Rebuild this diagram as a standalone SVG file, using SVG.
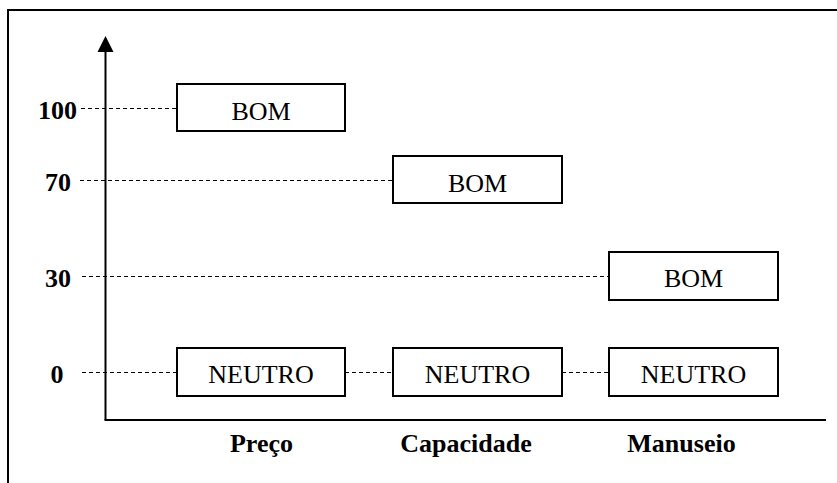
<svg xmlns="http://www.w3.org/2000/svg" width="837" height="483" viewBox="0 0 837 483">
<defs>
<style>
.box{fill:#fff;stroke:#000;stroke-width:2}
.lbl{font-family:"Liberation Serif","Times New Roman",serif;font-size:26px;fill:#000;text-anchor:middle}
.b{font-weight:bold}
.dash{stroke:#000;stroke-width:1;stroke-dasharray:4 3;fill:none;shape-rendering:crispEdges}
.ax{stroke:#000;stroke-width:2;fill:none}
</style>
</defs>
<rect width="837" height="483" fill="#fff"/>
<path class="ax" d="M8,483 L8,10 L837,10"/>
<g id="connectors">
<line class="dash" x1="81" y1="108.5" x2="177" y2="108.5"/>
<line class="dash" x1="80" y1="180.5" x2="393" y2="180.5"/>
<line class="dash" x1="82" y1="276.5" x2="609" y2="276.5"/>
<line class="dash" x1="82" y1="372.5" x2="177" y2="372.5"/>
<line class="dash" x1="345" y1="372.5" x2="393" y2="372.5"/>
<line class="dash" x1="562" y1="372.5" x2="609" y2="372.5"/>
</g>
<g id="axes">
<line class="ax" x1="105.5" y1="420" x2="105.5" y2="50"/>
<path d="M97.5,52 L105.5,36 L113.5,52 Z" fill="#000"/>
<line class="ax" x1="104.5" y1="420" x2="826" y2="420"/>
</g>
<g id="ylabels">
<text class="lbl b" x="57.5" y="118.5">100</text>
<text class="lbl b" x="58" y="190.5">70</text>
<text class="lbl b" x="58" y="287">30</text>
<text class="lbl b" x="57" y="383">0</text>
</g>
<g id="xlabels">
<text class="lbl b" x="261.5" y="452">Preço</text>
<text class="lbl b" x="466" y="452">Capacidade</text>
<text class="lbl b" x="681.5" y="452">Manuseio</text>
</g>
<g id="preco-bom"><rect class="box" x="177" y="84" width="168" height="47"/><text class="lbl" x="261" y="120">BOM</text></g>
<g id="capacidade-bom"><rect class="box" x="393" y="156" width="169" height="47"/><text class="lbl" x="477.5" y="191.5">BOM</text></g>
<g id="manuseio-bom"><rect class="box" x="609" y="252" width="169" height="48"/><text class="lbl" x="693.5" y="286.5">BOM</text></g>
<g id="preco-neutro"><rect class="box" x="177" y="348" width="168" height="48"/><text class="lbl" x="261" y="383">NEUTRO</text></g>
<g id="capacidade-neutro"><rect class="box" x="393" y="348" width="169" height="48"/><text class="lbl" x="477.5" y="383">NEUTRO</text></g>
<g id="manuseio-neutro"><rect class="box" x="609" y="348" width="169" height="48"/><text class="lbl" x="693.5" y="383">NEUTRO</text></g>
</svg>
